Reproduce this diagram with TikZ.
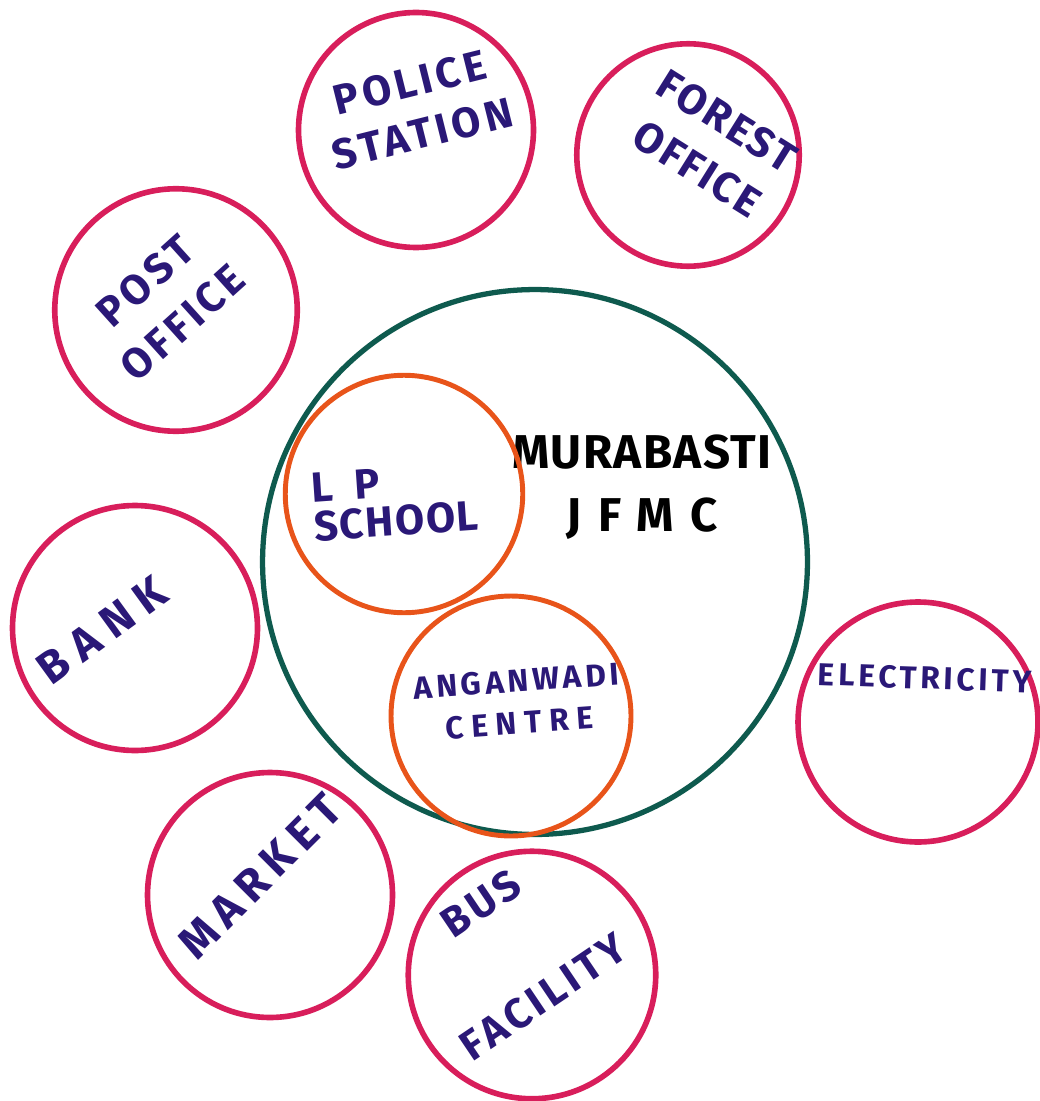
\documentclass[tikz,border=0pt]{standalone}
\usepackage{fontspec}
\setmainfont{Fira Sans}
\usepackage{xcolor}
\usepackage{tikz}

\definecolor{ringred}{HTML}{D81E5B}
\definecolor{ringteal}{HTML}{0E5A4E}
\definecolor{ringorange}{HTML}{E8541A}
\definecolor{inkblue}{HTML}{2A1877}

\newcommand{\spaced}[1]{\addfontfeature{LetterSpace=#1}}

\tikzset{
  outer/.style={circle, draw=ringred, line width=3.2pt, inner sep=0pt},
  inner/.style={circle, draw=ringorange, line width=2.8pt, inner sep=0pt},
  label/.style={text=inkblue, font=\bfseries\fontsize{24}{28}\selectfont\spaced{10}, anchor=center, inner sep=0pt, align=center},
  small/.style={text=inkblue, font=\bfseries\fontsize{18}{21}\selectfont\spaced{12}, anchor=center, inner sep=0pt, align=center}
}

\begin{document}
\begin{tikzpicture}[x=0.02cm,y=-0.02cm]
  \useasboundingbox (0,0) rectangle (1040,1101);

  % Main circle
  \node[circle, draw=ringteal, line width=3pt, minimum size=10.9cm] (jfmc) at (535,562) {};
  \node[font=\bfseries\fontsize{27}{31}\selectfont, anchor=center, align=center, inner sep=0pt] (jfmcname) at (642,487)
    {{\spaced{3}MURABASTI}\\[5pt]{\spaced{35}JFMC}};

  % Inside circles
  \node[inner, minimum size=4.75cm] (lp) at (404,494) {};
  \node[label, font=\bfseries\fontsize{24}{28}\selectfont\spaced{4}, align=left, rotate=4] (lpname) at (395,502) {L\enspace P\\[-6pt]SCHOOL};

  \node[inner, minimum size=4.8cm] (awc) at (511,716) {};
  \node[small, rotate=4] (awcname) at (518,702) {ANGANWADI\\[3pt]{\spaced{25}CENTRE}};

  % Police station
  \node[outer, minimum size=4.7cm] (police) at (416,130) {};
  \node[label, rotate=14] (policename) at (416,108) {POLICE\\[2pt]STATION};

  % Forest office
  \node[outer, minimum size=4.45cm] (forest) at (688,155) {};
  \node[label, font=\bfseries\fontsize{24}{28}\selectfont\spaced{6}, rotate=-32] (forestname) at (712,145) {FOREST\\[4pt]OFFICE};

  % Post office
  \node[outer, minimum size=4.85cm] (post) at (176,310) {};
  \node[label, rotate=42] (postname) at (164,302) {POST\\[4pt]OFFICE};

  % Bank
  \node[outer, minimum size=4.9cm] (bank) at (135,628) {};
  \node[label, font=\bfseries\fontsize{26}{30}\selectfont\spaced{24}, rotate=36] (bankname) at (102,630) {BANK};

  % Electricity
  \node[outer, minimum size=4.8cm] (elec) at (918,722) {};
  \node[small, rotate=-2] (elecname) at (925,678) {ELECTRICITY};

  % Market
  \node[outer, minimum size=4.9cm] (market) at (270,895) {};
  \node[label, font=\bfseries\fontsize{26}{30}\selectfont\spaced{18}, rotate=45] (marketname) at (260,876) {MARKET};

  % Bus facility
  \node[outer, minimum size=4.95cm] (bus) at (532,975) {};
  \node[label, rotate=34] (busname) at (512,950) {BUS\\[36pt]FACILITY};
\end{tikzpicture}
\end{document}
